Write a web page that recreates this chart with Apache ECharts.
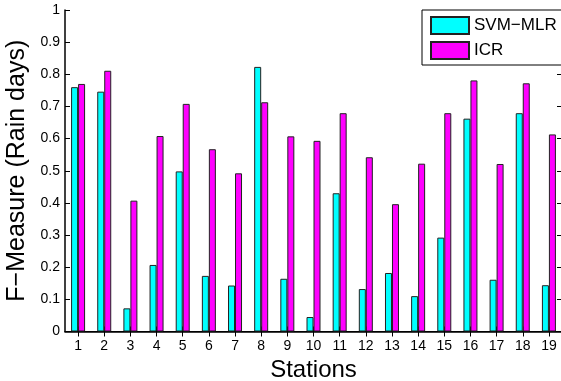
<!DOCTYPE html>
<html>
<head>
<meta charset="utf-8">
<script src="https://cdn.jsdelivr.net/npm/echarts@6/dist/echarts.min.js"></script>
<style>html,body{margin:0;padding:0;background:#fff;}#c{width:561px;height:381px;}</style>
</head>
<body>
<div id="c"></div>
<script>
const stations = ['1','2','3','4','5','6','7','8','9','10','11','12','13','14','15','16','17','18','19'];
const svmMlr = [0.760, 0.746, 0.072, 0.207, 0.498, 0.173, 0.143, 0.823, 0.164, 0.045, 0.430, 0.132, 0.182, 0.110, 0.292, 0.662, 0.161, 0.679, 0.144];
const icr = [0.770, 0.811, 0.407, 0.608, 0.708, 0.567, 0.492, 0.713, 0.607, 0.593, 0.679, 0.542, 0.396, 0.522, 0.679, 0.781, 0.521, 0.772, 0.613];
const seriesNames = ['SVM\u2212MLR', 'ICR'];
const yTitle = 'F\u2212Measure (Rain days)';
const xTitle = 'Stations';

const FONT = '"Liberation Sans", Arial, Helvetica, sans-serif';
const chart = echarts.init(document.getElementById('c'), null, {renderer: 'canvas'});
const axLine = {show: true, lineStyle: {color: '#000', width: 1.5}};
chart.setOption({
  animation: false,
  backgroundColor: '#fff',
  textStyle: {fontFamily: FONT},
  grid: {left: 65, top: 10, width: 497, bottom: 49.5, containLabel: false, outerBoundsMode: 'none'},
  legend: {
    left: 422, top: 10,
    orient: 'vertical',
    icon: 'rect',
    itemWidth: 38, itemHeight: 17, itemGap: 6,
    padding: [6, 20, 5, 8],
    backgroundColor: '#fff',
    borderColor: '#000', borderWidth: 1, borderRadius: 0,
    textStyle: {fontFamily: FONT, fontSize: 17, color: '#000'},
    data: seriesNames
  },
  xAxis: [{
    type: 'category', data: stations, position: 'bottom',
    axisLine: axLine,
    axisTick: {show: true, inside: true, alignWithLabel: true, length: 5, lineStyle: {color: '#000'}},
    axisLabel: {fontFamily: FONT, fontSize: 14, color: '#000', margin: 8},
    name: xTitle, nameLocation: 'middle', nameGap: 24,
    nameTextStyle: {fontFamily: FONT, fontSize: 24, color: '#000'}
  }, {
    type: 'category', data: stations, position: 'top',
    axisLine: {show: true, lineStyle: {color: '#000', width: 1}},
    axisTick: {show: true, inside: true, alignWithLabel: true, length: 5, lineStyle: {color: '#000'}},
    axisLabel: {show: false}
  }],
  yAxis: [{
    type: 'value', min: 0, max: 1, interval: 0.1, position: 'left',
    axisLine: axLine,
    axisTick: {show: true, inside: true, length: 5, lineStyle: {color: '#000'}},
    axisLabel: {fontFamily: FONT, fontSize: 14, color: '#000', margin: 5},
    splitLine: {show: false},
    name: yTitle, nameLocation: 'middle', nameGap: 34,
    nameTextStyle: {fontFamily: FONT, fontSize: 25, color: '#000'}
  }, {
    type: 'value', min: 0, max: 1, interval: 0.1, position: 'right',
    axisLine: {show: true, lineStyle: {color: '#000', width: 1}},
    axisTick: {show: true, inside: true, length: 5, lineStyle: {color: '#000'}},
    axisLabel: {show: false},
    splitLine: {show: false}
  }],
  series: [{
    name: seriesNames[0], type: 'bar', data: svmMlr,
    barWidth: 7, barGap: '0%',
    itemStyle: {color: '#00ffff', borderColor: '#222', borderWidth: 1}
  }, {
    name: seriesNames[1], type: 'bar', data: icr,
    barWidth: 7, barGap: '0%',
    itemStyle: {color: '#ff00ff', borderColor: '#222', borderWidth: 1}
  }]
});
</script>
</body>
</html>
